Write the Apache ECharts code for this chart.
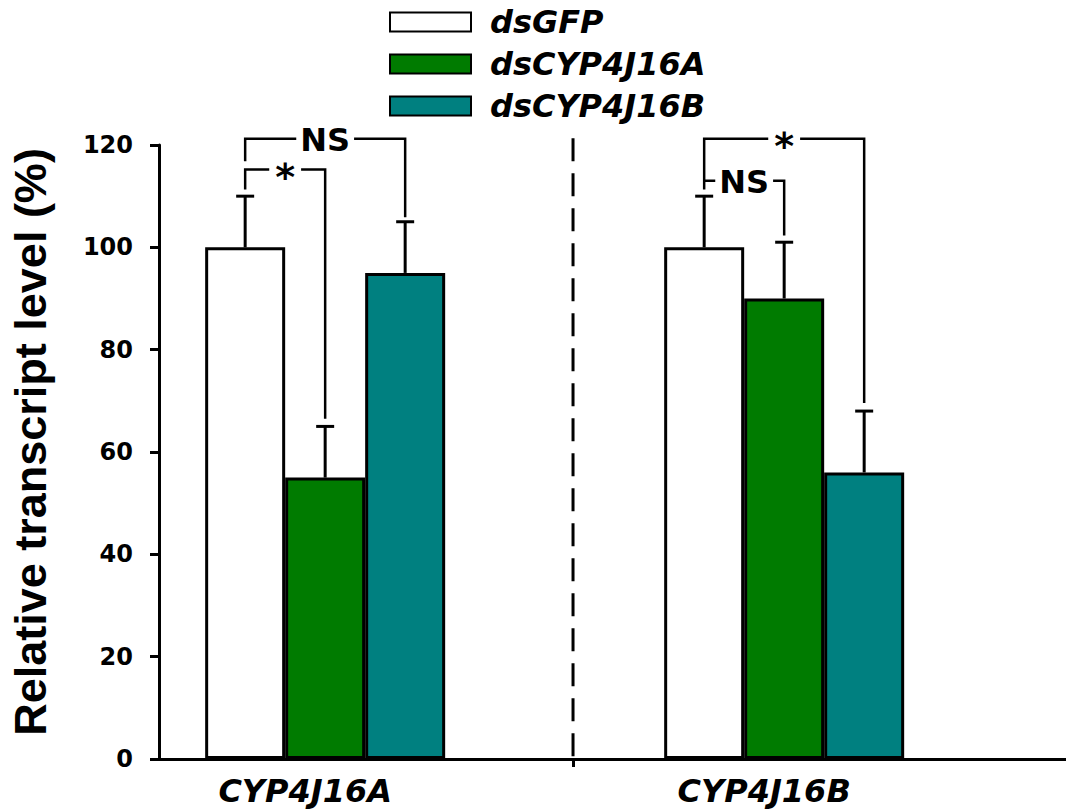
<!DOCTYPE html>
<html>
<head>
<meta charset="utf-8">
<title>Relative transcript level</title>
<script src="https://cdn.jsdelivr.net/npm/echarts@6/dist/echarts.min.js"></script>
<style>
  html, body { margin: 0; padding: 0; background: #fff; }
  #chart { width: 1066px; height: 810px; }
</style>
</head>
<body>
<div id="chart"></div>
<script>
// Target genes (x groups) and their positions on the x scale
const categories = ['CYP4J16A', 'CYP4J16B'];
const groupPos = [1, 2];
const dividerPos = 1.54;
const dividerTop = 121.3;

// dsRNA treatments
const seriesNames = ['dsGFP', 'dsCYP4J16A', 'dsCYP4J16B'];
const seriesColors = ['#ffffff', '#007b00', '#008080'];

// Mean relative transcript level (%) per gene, one array per treatment
const dsGFP = [100, 100];
const dsCYP4J16A = [55, 90];
const dsCYP4J16B = [95, 56];

// Upper error (SE) per gene
const errGFP = [10, 10];
const errCYP4J16A = [10, 11];
const errCYP4J16B = [10, 12];

// Y axis ticks
const yTicks = [0, 20, 40, 60, 80, 100, 120];

// Significance brackets: [gene, fromBar, toBar, topLevel, leftEnd, rightEnd]
const brackets = [
  [0, 0, 2, 121.2, 116.8, 105.9],
  [0, 0, 1, 115.2, 111.3, 66.5],
  [1, 0, 2, 121.2, 111.3, 69.6],
  [1, 0, 1, 113.0, 113.0, 102.3]
];
const bracketLabels = ['NS', '*', '*', 'NS'];

const BAR_W = 80;
const FONT = '"DejaVu Sans", "Liberation Sans", sans-serif';

const means = [dsGFP, dsCYP4J16A, dsCYP4J16B];
const errs = [errGFP, errCYP4J16A, errCYP4J16B];

const barSeries = seriesNames.map((name, s) => ({
  name: name,
  type: 'bar',
  barWidth: BAR_W,
  barGap: '0%',
  data: groupPos.map((p, g) => [p, means[s][g]]),
  itemStyle: { color: seriesColors[s], borderColor: '#000', borderWidth: 3 },
  z: 2
}));

const errData = [];
means.forEach((arr, s) => arr.forEach((v, g) => errData.push([groupPos[g], v, errs[s][g], s])));

const errSeries = {
  type: 'custom',
  name: 'error',
  z: 3,
  data: errData,
  encode: { x: 0, y: 1 },
  renderItem: function (params, api) {
    const pos = api.value(0), v = api.value(1), e = api.value(2), s = api.value(3);
    const base = api.coord([pos, v]);
    const top = api.coord([pos, v + e]);
    const x = base[0] + (s - 1) * BAR_W;
    const cap = 9;
    return {
      type: 'group',
      children: [
        { type: 'line', shape: { x1: x, y1: base[1], x2: x, y2: top[1] }, style: { stroke: '#000', lineWidth: 3 } },
        { type: 'line', shape: { x1: x - cap, y1: top[1], x2: x + cap, y2: top[1] }, style: { stroke: '#000', lineWidth: 3 } }
      ]
    };
  }
};

const bracketSeries = {
  type: 'custom',
  name: 'brackets',
  z: 4,
  clip: false,
  data: brackets.map(b => [groupPos[b[0]], b[3]]),
  encode: { x: 0, y: 1 },
  renderItem: function (params, api) {
    const b = brackets[params.dataIndex];
    const label = bracketLabels[params.dataIndex];
    const cx = api.coord([groupPos[b[0]], 0])[0];
    const xL = cx + (b[1] - 1) * BAR_W;
    const xR = cx + (b[2] - 1) * BAR_W;
    const yT = api.coord([groupPos[b[0]], b[3]])[1];
    const yL = api.coord([groupPos[b[0]], b[4]])[1];
    const yR = api.coord([groupPos[b[0]], b[5]])[1];
    const isStar = label === '*';
    return {
      type: 'group',
      children: [
        {
          type: 'polyline',
          shape: { points: [[xL, yL], [xL, yT], [xR, yT], [xR, yR]] },
          style: { stroke: '#000', lineWidth: 2.5, fill: null }
        },
        {
          type: 'text',
          z2: 10,
          style: {
            text: label,
            x: (xL + xR) / 2,
            y: yT + (isStar ? 7 : 1),
            align: 'center',
            verticalAlign: 'middle',
            font: 'bold ' + (isStar ? 38 : 32) + 'px ' + FONT,
            fill: '#000',
            backgroundColor: '#fff',
            padding: isStar ? [0, 6] : [0, 4]
          }
        }
      ]
    };
  }
};

// Dashed separator between the two gene groups
const dividerSeries = {
  type: 'line',
  name: 'divider',
  silent: true,
  clip: false,
  symbol: 'none',
  z: 1,
  data: [[dividerPos, dividerTop], [dividerPos, 0]],
  lineStyle: { color: '#000', width: 3, type: [23, 12] }
};

const chart = echarts.init(document.getElementById('chart'), null, { renderer: 'svg' });
chart.setOption({
  animation: false,
  backgroundColor: '#fff',
  legend: {
    data: seriesNames,
    orient: 'vertical',
    left: 384,
    top: 1,
    itemWidth: 81,
    itemHeight: 19,
    itemGap: 10,
    icon: 'rect',
    textStyle: {
      fontFamily: FONT,
      fontWeight: 'bold',
      fontStyle: 'italic',
      fontSize: 32,
      color: '#000',
      padding: [0, 0, 0, 14]
    }
  },
  grid: { left: 157, right: 0, top: 145, bottom: 51, containLabel: false },
  xAxis: {
    type: 'value',
    min: 0.638,
    max: 2.614,
    splitLine: { show: false },
    axisLine: { show: true, lineStyle: { color: '#000', width: 3 } },
    axisTick: { show: true, customValues: [dividerPos], length: 8, lineStyle: { color: '#000', width: 3 } },
    axisLabel: {
      customValues: groupPos,
      formatter: function (v) {
        const i = groupPos.indexOf(v);
        return i >= 0 ? categories[i] : '';
      },
      margin: 16,
      fontFamily: FONT,
      fontWeight: 'bold',
      fontStyle: 'italic',
      fontSize: 32,
      color: '#000',
      padding: [0, 40, 0, 0]
    }
  },
  yAxis: {
    type: 'value',
    min: 0,
    max: 120,
    interval: 20,
    name: 'Relative transcript level (%)',
    nameLocation: 'middle',
    nameGap: 106,
    nameTextStyle: {
      fontFamily: '"Liberation Sans", Arial, sans-serif',
      fontWeight: 'bold',
      fontSize: 45,
      color: '#000',
      padding: [0, 0, 0, 20]
    },
    splitLine: { show: false },
    axisLine: { show: true, lineStyle: { color: '#000', width: 3 } },
    axisTick: { show: true, length: 9, lineStyle: { color: '#000', width: 3 } },
    axisLabel: {
      margin: 26,
      fontFamily: FONT,
      fontWeight: 'bold',
      fontSize: 24,
      color: '#000',
      formatter: function (v) { return yTicks.indexOf(v) >= 0 ? String(v) : ''; }
    }
  },
  series: barSeries.concat([errSeries, bracketSeries, dividerSeries])
});
</script>
</body>
</html>
